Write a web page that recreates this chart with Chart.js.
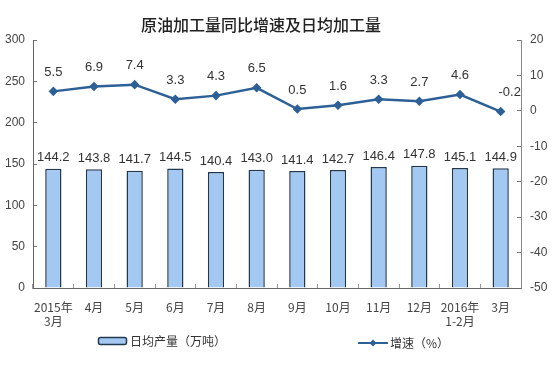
<!DOCTYPE html>
<html>
<head>
<meta charset="utf-8">
<script src="https://cdn.jsdelivr.net/npm/chart.js@4"></script>
<style>
    html, body { margin: 0; padding: 0; background: #fff; }
    #wrap { width: 552px; height: 373px; }
</style>
</head>
<body>
<div id="wrap"><canvas id="chart" width="552" height="373"></canvas></div>
<script>
/* ===== datos ===== */
const categories = [["2015年", "3月"], "4月", "5月", "6月", "7月", "8月", "9月", "10月", "11月", "12月", ["2016年", "1-2月"], "3月"];
const dailyOutput = [144.2, 143.8, 141.7, 144.5, 140.4, 143.0, 141.4, 142.7, 146.4, 147.8, 145.1, 144.9];
const growthRate = [5.5, 6.9, 7.4, 3.3, 4.3, 6.5, 0.5, 1.6, 3.3, 2.7, 4.6, -0.2];
const barLabel = "日均产量（万吨）";
const lineLabel = "增速（%）";
const chartTitle = "原油加工量同比增速及日均加工量";

const BAR_FILL = "#a3c9f2";
const BAR_EDGE = "#22384f";
const LINE_COLOR = "#2d6096";
const CJK = "'Noto Sans CJK SC', 'Noto Sans', sans-serif";
const NUM = "'Liberation Sans', Arial, sans-serif";

// etiquetas de valores, título y leyenda
const decorPlugin = {
    id: "decor",
    afterDatasetsDraw(chart) {
        const ctx = chart.ctx;
        ctx.save();
        ctx.fillStyle = "#333";
        ctx.font = "13px " + NUM;
        ctx.textAlign = "center";
        ctx.textBaseline = "middle";
        chart.getDatasetMeta(0).data.forEach((el, i) => {
            ctx.fillText(dailyOutput[i].toFixed(1), el.x, el.y - 11);
        });
        chart.getDatasetMeta(1).data.forEach((el, i) => {
            const dx = i === growthRate.length - 1 ? 9 : 0;
            ctx.fillText(growthRate[i].toFixed(1), el.x + dx, el.y - 19);
        });

        // título
        ctx.font = "500 16px " + CJK;
        ctx.fillStyle = "#222";
        ctx.fillText(chartTitle, 261, 25);

        // leyenda
        ctx.fillStyle = BAR_FILL;
        ctx.strokeStyle = BAR_EDGE;
        ctx.lineWidth = 1.5;
        ctx.beginPath();
        ctx.roundRect(98.5, 337.5, 28, 7, 2);
        ctx.fill();
        ctx.stroke();
        ctx.font = "12px " + CJK;
        ctx.fillStyle = "#333";
        ctx.textAlign = "left";
        ctx.fillText(barLabel, 130, 341);

        ctx.strokeStyle = LINE_COLOR;
        ctx.lineWidth = 2;
        ctx.beginPath();
        ctx.moveTo(358, 343);
        ctx.lineTo(388, 343);
        ctx.stroke();
        ctx.fillStyle = LINE_COLOR;
        ctx.beginPath();
        ctx.moveTo(373, 339.5);
        ctx.lineTo(376.5, 343);
        ctx.lineTo(373, 346.5);
        ctx.lineTo(369.5, 343);
        ctx.closePath();
        ctx.fill();
        ctx.fillStyle = "#333";
        ctx.fillText(lineLabel, 390, 343);
        ctx.restore();
    }
};

const ctx = document.getElementById("chart").getContext("2d");
new Chart(ctx, {
    data: {
        labels: categories,
        datasets: [
            {
                type: "bar",
                label: barLabel,
                data: dailyOutput,
                yAxisID: "yLeft",
                backgroundColor: BAR_FILL,
                borderColor: BAR_EDGE,
                borderWidth: 1.5,
                categoryPercentage: 1,
                barPercentage: 0.4,
                order: 1
            },
            {
                type: "line",
                label: lineLabel,
                data: growthRate,
                yAxisID: "yRight",
                borderColor: LINE_COLOR,
                backgroundColor: LINE_COLOR,
                borderWidth: 2.5,
                pointStyle: "rectRot",
                pointRadius: 3,
                pointHoverRadius: 3,
                tension: 0,
                order: 0
            }
        ]
    },
    options: {
        responsive: false,
        animation: false,
        events: [],
        layout: { padding: { top: 40, bottom: 40, left: 0, right: 0 } },
        plugins: {
            legend: { display: false },
            title: { display: false },
            tooltip: { enabled: false }
        },
        scales: {
            x: {
                offset: true,
                grid: {
                    display: true,
                    offset: true,
                    drawOnChartArea: false,
                    tickLength: -4,
                    color: "#999"
                },
                border: { color: "#666", width: 1 },
                ticks: {
                    color: "#444",
                    font: { family: CJK, size: 12 },
                    padding: 16,
                    maxRotation: 0,
                    autoSkip: false
                },
                afterFit(scale) { scale.height = 45; }
            },
            yLeft: {
                position: "left",
                min: 0,
                max: 300,
                ticks: {
                    stepSize: 50,
                    color: "#444",
                    font: { family: NUM, size: 12 },
                    padding: 12
                },
                grid: { drawOnChartArea: false, tickLength: -4, color: "#777" },
                border: { color: "#666", width: 1 },
                afterFit(scale) { scale.width = 33; }
            },
            yRight: {
                position: "right",
                min: -50,
                max: 20,
                ticks: {
                    stepSize: 10,
                    color: "#444",
                    font: { family: NUM, size: 12 },
                    padding: 13
                },
                grid: { drawOnChartArea: false, tickLength: -4, color: "#777" },
                border: { color: "#888", width: 1 },
                afterFit(scale) { scale.width = 31; }
            }
        }
    },
    plugins: [decorPlugin]
});
</script>
</body>
</html>
